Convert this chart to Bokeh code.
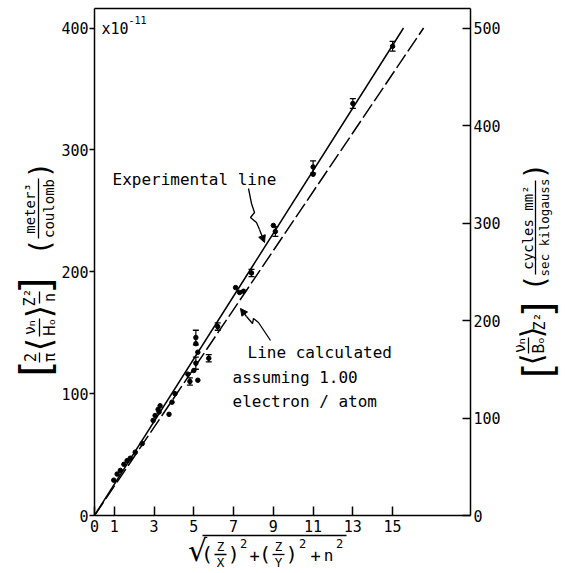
import math
from bokeh.plotting import figure
from bokeh.models import Range1d, LinearAxis, FixedTicker, Label, Arrow, NormalHead
from bokeh.embed import file_html
from bokeh.resources import INLINE

# ---------------- data ----------------
dots_x = [0.97, 1.14, 1.3, 1.48, 1.64, 1.8, 2.05, 2.4, 2.95, 3.05, 3.2, 3.3, 3.25, 3.75, 3.9, 4.05, 4.7,
          5.0, 5.2, 5.1, 5.2, 7.1, 7.3, 7.5, 9.0, 11.0]
dots_y = [29, 34, 37, 42, 45, 47, 52, 59, 78, 82, 87, 90, 85, 83, 93, 100, 116,
          119, 111, 141, 134, 187, 183, 184, 238, 280]

eb_x = [4.8, 5.1, 5.1, 5.75, 6.2, 7.9, 9.1, 11.0, 13.0, 15.0]
eb_y = [110, 146, 125, 129, 155, 199, 233, 286, 338, 385]
eb_err = [3, 6, 5, 3, 3, 3, 4, 5, 4, 4]

exp_x = [0, 15.55]      # experimental line
exp_y = [0, 400]
calc_x = [0, 16.56]     # line calculated assuming 1.00 electron/atom
calc_y = [0, 400]

x_ticks = [0, 1, 3, 5, 7, 9, 11, 13, 15]
y_ticks_left = [0, 100, 200, 300, 400]
y_ticks_right = [0, 100, 200, 300, 400, 500]

X_MAX = 18.92
Y_MAX = 416
RIGHT_FACTOR = 1.25

MONO = "DejaVu Sans Mono"
SANS = "DejaVu Sans"

# page-pixel geometry of the plot box
BOX_L, BOX_R, BOX_T, BOX_B = 94, 470, 8, 515
PX_X = (BOX_R - BOX_L) / X_MAX
PX_Y = (BOX_B - BOX_T) / Y_MAX
CAN_L, CAN_T, CAN_W, CAN_H = 0, 0, 565, 572

def dx(px):
    return (px - BOX_L) / PX_X

def dy(py):
    return (BOX_B - py) / PX_Y

p = figure(width=CAN_W, height=CAN_H,
           x_range=Range1d(dx(CAN_L), dx(CAN_L + CAN_W)),
           y_range=Range1d(dy(CAN_T + CAN_H), dy(CAN_T)),
           output_backend="svg", toolbar_location=None,
           x_axis_type=None, y_axis_type=None,
           min_border=0)
p.title.visible = False
p.grid.visible = False
p.background_fill_color = "white"
p.border_fill_color = "white"
p.outline_line_color = None
p.extra_y_ranges = {"right": Range1d(dy(CAN_T + CAN_H) * RIGHT_FACTOR, dy(CAN_T) * RIGHT_FACTOR)}

def style_axis(ax):
    ax.axis_line_color = "black"
    ax.axis_line_width = 1.5
    ax.major_tick_line_color = "black"
    ax.major_tick_line_width = 1.5
    ax.minor_tick_line_color = None
    ax.major_label_text_font = MONO
    ax.major_label_text_font_size = "15px"
    ax.major_label_text_color = "black"

xaxis = LinearAxis(ticker=FixedTicker(ticks=x_ticks), major_tick_in=9, major_tick_out=0,
                   major_label_standoff=4, fixed_location=0, bounds=(0, X_MAX))
style_axis(xaxis)
p.add_layout(xaxis, "below")

topaxis = LinearAxis(ticker=FixedTicker(ticks=[]), fixed_location=Y_MAX, bounds=(0, X_MAX))
style_axis(topaxis)
p.add_layout(topaxis, "above")

yaxis = LinearAxis(ticker=FixedTicker(ticks=y_ticks_left), major_tick_in=0, major_tick_out=5,
                   major_label_standoff=1, fixed_location=0, bounds=(0, Y_MAX))
style_axis(yaxis)
p.add_layout(yaxis, "left")

raxis = LinearAxis(y_range_name="right", ticker=FixedTicker(ticks=y_ticks_right),
                   major_tick_in=8, major_tick_out=0, major_label_standoff=3,
                   fixed_location=X_MAX, bounds=(0, Y_MAX * RIGHT_FACTOR))
style_axis(raxis)
p.add_layout(raxis, "right")

# lines
p.line(exp_x, exp_y, line_width=1.5, line_color="black")
p.line(calc_x, calc_y, line_width=1.5, line_color="black", line_dash="16 4")

# error bars and points
lo = [y - e for y, e in zip(eb_y, eb_err)]
hi = [y + e for y, e in zip(eb_y, eb_err)]
p.segment(x0=eb_x, y0=lo, x1=eb_x, y1=hi, line_width=1.2, line_color="black")
p.scatter(eb_x, lo, marker="dash", size=6, line_width=1.3, line_color="black")
p.scatter(eb_x, hi, marker="dash", size=6, line_width=1.3, line_color="black")
p.scatter(eb_x, eb_y, size=4.5, fill_color="black", line_color="black")
p.scatter(dots_x, dots_y, size=4.5, fill_color="black", line_color="black")

def lab(text, px, py, size, font=MONO, angle=0.0, align="center", baseline="middle"):
    p.add_layout(Label(x=dx(px), y=dy(py), text=text,
                       text_font=font, text_font_size=f"{size}px", angle=angle,
                       text_align=align, text_baseline=baseline, text_color="black"))

# fraction bars / radical overline of the axis titles (page pixels: x0, y0, x1, y1)
bars = [(38, 178, 38, 238),      # meter^3 / coulomb
        (39, 352, 39, 362),      # 2 / pi
        (39, 318, 39, 336),      # nu_n / H_o
        (39, 291, 39, 303),      # Z^2 / n
        (535, 180, 535, 274),    # cycles mm^2 / sec kilogauss
        (528, 337, 528, 353),    # nu_n / B_o
        (202, 535, 346, 535),    # radical overline
        (214, 554, 226, 554),    # Z / X
        (272, 554, 284, 554)]    # Z / Y
p.segment(x0=[dx(b[0]) for b in bars], y0=[dy(b[1]) for b in bars],
          x1=[dx(b[2]) for b in bars], y1=[dy(b[3]) for b in bars],
          line_width=1.3, line_color="black")

# leader lines
lead1 = [(248, 188), (251, 203), (254, 212), (250, 217), (256, 222), (259, 229)]
p.line([dx(a) for a, b in lead1], [dy(b) for a, b in lead1], line_width=1.3, line_color="black")
p.add_layout(Arrow(end=NormalHead(size=7, fill_color="black", line_color="black"),
                   x_start=dx(259), y_start=dy(229), x_end=dx(264), y_end=dy(242),
                   line_width=1.3, line_color="black"))
lead2 = [(270, 340), (258, 322), (253, 318), (252, 323), (246, 316)]
p.line([dx(a) for a, b in lead2], [dy(b) for a, b in lead2], line_width=1.3, line_color="black")
p.add_layout(Arrow(end=NormalHead(size=7, fill_color="black", line_color="black"),
                   x_start=dx(246), y_start=dy(316), x_end=dx(240), y_end=dy(308),
                   line_width=1.3, line_color="black"))

# texts in the plot
lab("x10", 101, 28, 15, align="left")
lab("-11", 128, 19, 10, align="left")
lab("Experimental line", 112, 179, 16, align="left")
lab("Line calculated", 247, 352, 16, align="left")
lab("assuming 1.00", 232, 377, 16, align="left")
lab("electron / atom", 232, 401, 16, align="left")

R = math.pi / 2
# left axis title: units
lab("(", 40, 246, 28, SANS, R)
lab("meter³", 29, 208, 14, MONO, R)
lab("coulomb", 48, 208, 14, MONO, R)
lab(")", 40, 170, 28, SANS, R)
# left axis title: quantity
lab("[", 36, 368, 42, SANS, R)
lab("2", 29, 357, 15, MONO, R)
lab("π", 49, 357, 15, MONO, R)
lab("⟨", 38, 344, 34, SANS, R)
lab("νₙ", 29, 327, 15, SANS, R)
lab("Hₒ", 49, 327, 15, SANS, R)
lab("⟩", 38, 311, 34, SANS, R)
lab("Z²", 29, 297, 15, MONO, R)
lab("n", 49, 297, 15, MONO, R)
lab("]", 36, 285, 42, SANS, R)

# right axis title: units
lab("(", 535, 282, 28, SANS, R)
lab("cycles mm²", 527, 227, 14, MONO, R)
lab("sec kilogauss", 544, 227, 12.5, MONO, R)
lab(")", 535, 171, 28, SANS, R)
# right axis title: quantity
lab("[", 537, 370, 40, SANS, R)
lab("⟨", 531, 359, 30, SANS, R)
lab("νₙ", 519, 345, 15, SANS, R)
lab("Bₒ", 538, 345, 15, SANS, R)
lab("⟩", 531, 332, 30, SANS, R)
lab("Z²", 539, 321, 15, MONO, R)
lab("]", 537, 309, 40, SANS, R)

# x axis title
lab("√", 197, 550, 30, SANS)
lab("(", 207, 553, 20, SANS)
lab("Z", 220, 546, 12.5)
lab("X", 220, 562, 12.5)
lab(")", 233, 553, 20, SANS)
lab("2", 243, 543, 12)
lab("+", 254, 555, 17)
lab("(", 265, 553, 20, SANS)
lab("Z", 278, 546, 12.5)
lab("Y", 278, 562, 12.5)
lab(")", 291, 553, 20, SANS)
lab("2", 302, 543, 12)
lab("+", 315, 555, 17)
lab("n", 328, 555, 16)
lab("2", 339, 543, 12)

open("out.html", "w").write(file_html(p, INLINE))
